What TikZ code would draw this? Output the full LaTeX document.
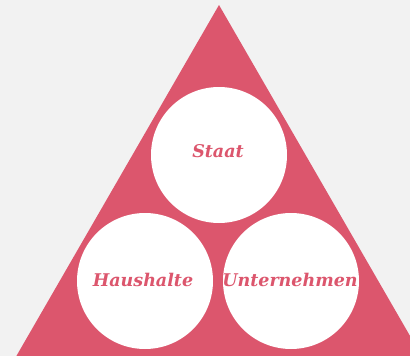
\documentclass[tikz,border=0pt]{standalone}
\usepackage{fontspec}
\setmainfont{DejaVu Serif}
\definecolor{bg}{HTML}{F2F2F2}
\definecolor{rose}{HTML}{DC566D}
\begin{document}
\begin{tikzpicture}[x=1pt,y=-1pt,
  disc/.style={circle,fill=white,minimum size=136pt,inner sep=0pt},
  lbl/.style={text=rose,inner sep=0pt,anchor=base,font=\fontsize{17.5}{20}\selectfont\bfseries\itshape}]
\useasboundingbox (0,0) rectangle (410,356);
\fill[bg] (0,0) rectangle (410,356);
\begin{scope}
\clip (0,0) rectangle (410,356);
\fill[rose] (219,5) -- (219-230.9,405) -- (219+230.9,405) -- cycle;
\end{scope}
\node[disc] (staat) at (219,155) {};
\node[disc] (haus) at (145,281) {};
\node[disc] (unter) at (291,281) {};
\node[lbl] (tstaat) at (218,157) {Staat};
\node[lbl] (thaus) at (143,286) {Haushalte};
\node[lbl] (tunter) at (290,286) {Unternehmen};
\end{tikzpicture}
\end{document}
